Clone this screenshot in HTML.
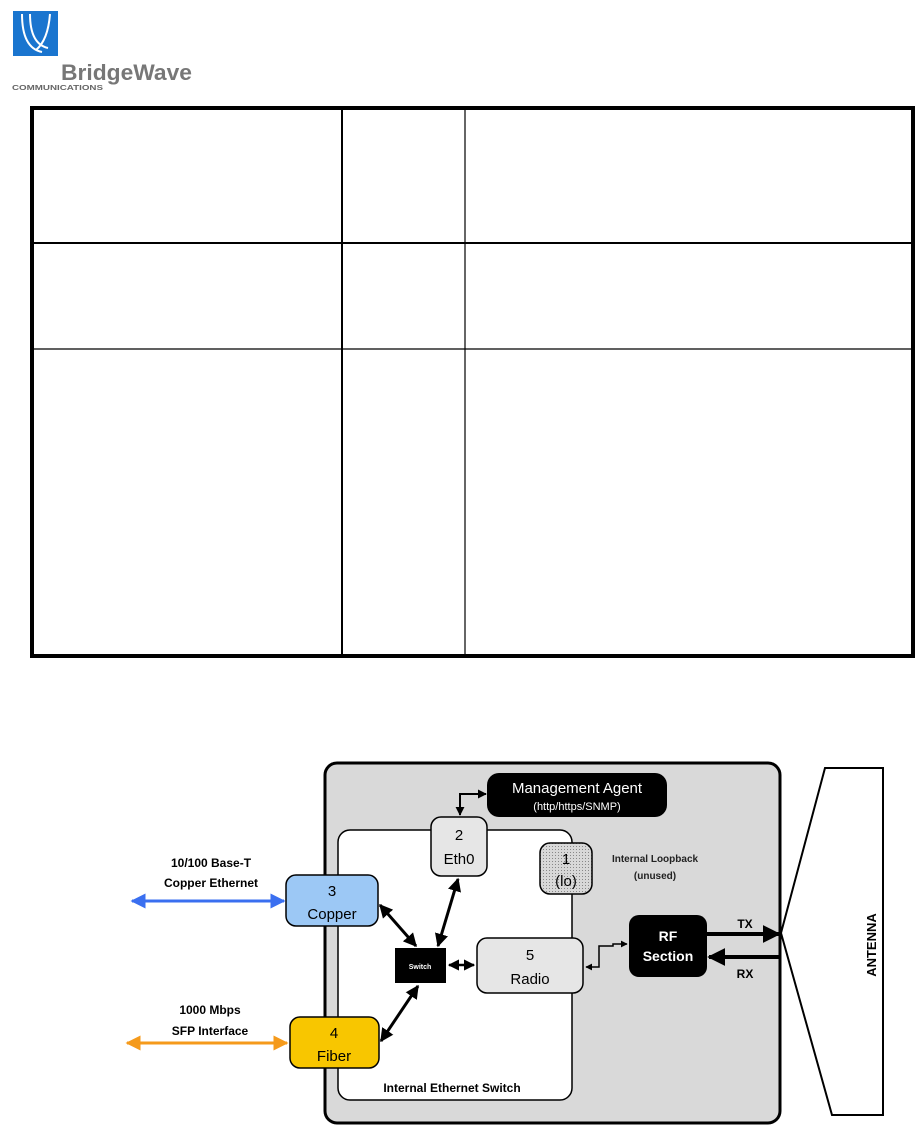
<!DOCTYPE html>
<html><head><meta charset="utf-8"><style>
body{margin:0;width:917px;height:1128px;background:#fff;position:relative;overflow:hidden;font-family:"Liberation Sans",sans-serif}
</style></head><body>
<svg width="917" height="1128" style="position:absolute;left:0;top:0" font-family="Liberation Sans, sans-serif">
<defs>
<marker id="ah" viewBox="0 0 10 10" refX="9" refY="5" markerWidth="4.5" markerHeight="4.5" orient="auto-start-reverse"><path d="M0,0L10,5L0,10z" fill="#000"/></marker>
<marker id="ahb" viewBox="0 0 10 10" refX="9" refY="5" markerWidth="5" markerHeight="5" orient="auto-start-reverse"><path d="M0,0L10,5L0,10z" fill="#3a6ff0"/></marker>
<marker id="aho" viewBox="0 0 10 10" refX="9" refY="5" markerWidth="5" markerHeight="5" orient="auto-start-reverse"><path d="M0,0L10,5L0,10z" fill="#f59a1b"/></marker>
<pattern id="dots" width="3" height="3" patternUnits="userSpaceOnUse"><rect width="3" height="3" fill="#d8d8d8"/><rect width="1" height="1" fill="#888"/></pattern>
</defs>
<rect x="13" y="11" width="45" height="45" fill="#1a75cf"/>
<path d="M22,14 Q22,48 42,52 M30,14 Q30,44 48,48 M50,14 Q48,40 36,50" stroke="#fff" stroke-width="2" fill="none"/>
<text x="61" y="80" font-size="22" font-weight="bold" fill="#777" textLength="131" lengthAdjust="spacingAndGlyphs">BridgeWave</text>
<text x="12" y="90" font-size="7.5" font-weight="bold" fill="#666" textLength="91" lengthAdjust="spacingAndGlyphs">COMMUNICATIONS</text>
<rect x="32" y="108" width="881" height="548" fill="none" stroke="#000" stroke-width="4"/>
<line x1="342" y1="108" x2="342" y2="656" stroke="#000" stroke-width="2"/>
<line x1="465" y1="108" x2="465" y2="656" stroke="#000" stroke-width="1.2"/>
<line x1="32" y1="243" x2="913" y2="243" stroke="#000" stroke-width="2"/>
<line x1="32" y1="349" x2="913" y2="349" stroke="#000" stroke-width="1.2"/>
<rect x="325" y="763" width="455" height="360" rx="12" fill="#d9d9d9" stroke="#000" stroke-width="3"/>
<rect x="338" y="830" width="234" height="270" rx="12" fill="#fff" stroke="#000" stroke-width="1.5"/>
<polygon points="825,768 883,768 883,1115 832,1115 781,933" fill="#fff" stroke="#000" stroke-width="2"/>
<text transform="translate(876,945) rotate(-90)" text-anchor="middle" font-size="13" font-weight="bold">ANTENNA</text>
<rect x="487" y="773" width="180" height="44" rx="12" fill="#000"/>
<text x="577" y="793" text-anchor="middle" font-size="15" fill="#fff">Management Agent</text>
<text x="577" y="810" text-anchor="middle" font-size="11" fill="#fff">(http/https/SNMP)</text>
<polyline points="486,794 460,794 460,815" fill="none" stroke="#000" stroke-width="2" marker-start="url(#ah)" marker-end="url(#ah)"/>
<rect x="431" y="817" width="56" height="59" rx="10" fill="#e6e6e6" stroke="#000" stroke-width="1.5"/>
<text x="459" y="840" text-anchor="middle" font-size="15">2</text>
<text x="459" y="864" text-anchor="middle" font-size="15">Eth0</text>
<rect x="540" y="843" width="52" height="51" rx="10" fill="url(#dots)" stroke="#000" stroke-width="1.5"/>
<text x="566" y="864" text-anchor="middle" font-size="15">1</text>
<text x="566" y="886" text-anchor="middle" font-size="15">(lo)</text>
<text x="655" y="862" text-anchor="middle" font-size="10" font-weight="bold" fill="#222">Internal Loopback</text>
<text x="655" y="879" text-anchor="middle" font-size="10" font-weight="bold" fill="#222">(unused)</text>
<rect x="286" y="875" width="92" height="51" rx="10" fill="#9cc8f5" stroke="#000" stroke-width="1.5"/>
<text x="332" y="896" text-anchor="middle" font-size="15">3</text>
<text x="332" y="919" text-anchor="middle" font-size="15">Copper</text>
<rect x="290" y="1017" width="89" height="51" rx="10" fill="#f8c600" stroke="#000" stroke-width="1.5"/>
<text x="334" y="1038" text-anchor="middle" font-size="15">4</text>
<text x="334" y="1061" text-anchor="middle" font-size="15">Fiber</text>
<rect x="395" y="948" width="51" height="35" fill="#000"/>
<text x="420" y="969" text-anchor="middle" font-size="7" fill="#fff" font-weight="bold">Switch</text>
<rect x="477" y="938" width="106" height="55" rx="10" fill="#e6e6e6" stroke="#000" stroke-width="1.5"/>
<text x="530" y="960" text-anchor="middle" font-size="15">5</text>
<text x="530" y="984" text-anchor="middle" font-size="15">Radio</text>
<rect x="629" y="915" width="78" height="62" rx="10" fill="#000"/>
<text x="668" y="941" text-anchor="middle" font-size="14" font-weight="bold" fill="#fff">RF</text>
<text x="668" y="961" text-anchor="middle" font-size="14" font-weight="bold" fill="#fff">Section</text>
<line x1="380" y1="905" x2="416" y2="946" stroke="#000" stroke-width="3" marker-start="url(#ah)" marker-end="url(#ah)"/>
<line x1="458" y1="879" x2="438" y2="946" stroke="#000" stroke-width="3" marker-start="url(#ah)" marker-end="url(#ah)"/>
<line x1="381" y1="1041" x2="418" y2="986" stroke="#000" stroke-width="3" marker-start="url(#ah)" marker-end="url(#ah)"/>
<line x1="449" y1="965" x2="474" y2="965" stroke="#000" stroke-width="2.5" marker-start="url(#ah)" marker-end="url(#ah)"/>
<polyline points="586,967 599,967 599,946 613,946 613,944 627,944" fill="none" stroke="#000" stroke-width="1.5" marker-start="url(#ah)" marker-end="url(#ah)"/>
<line x1="707" y1="934" x2="779" y2="934" stroke="#000" stroke-width="4" marker-end="url(#ah)"/>
<line x1="780" y1="957" x2="709" y2="957" stroke="#000" stroke-width="4" marker-end="url(#ah)"/>
<text x="745" y="928" text-anchor="middle" font-size="12" font-weight="bold">TX</text>
<text x="745" y="978" text-anchor="middle" font-size="12" font-weight="bold">RX</text>
<line x1="132" y1="901" x2="284" y2="901" stroke="#3a6ff0" stroke-width="3" marker-start="url(#ahb)" marker-end="url(#ahb)"/>
<line x1="127" y1="1043" x2="287" y2="1043" stroke="#f59a1b" stroke-width="3" marker-start="url(#aho)" marker-end="url(#aho)"/>
<text x="211" y="867" text-anchor="middle" font-size="12" font-weight="bold">10/100 Base-T</text>
<text x="211" y="887" text-anchor="middle" font-size="12" font-weight="bold">Copper Ethernet</text>
<text x="210" y="1014" text-anchor="middle" font-size="12" font-weight="bold">1000 Mbps</text>
<text x="210" y="1035" text-anchor="middle" font-size="12" font-weight="bold">SFP Interface</text>
<text x="452" y="1092" text-anchor="middle" font-size="12" font-weight="bold">Internal Ethernet Switch</text>
</svg>
</body></html>
